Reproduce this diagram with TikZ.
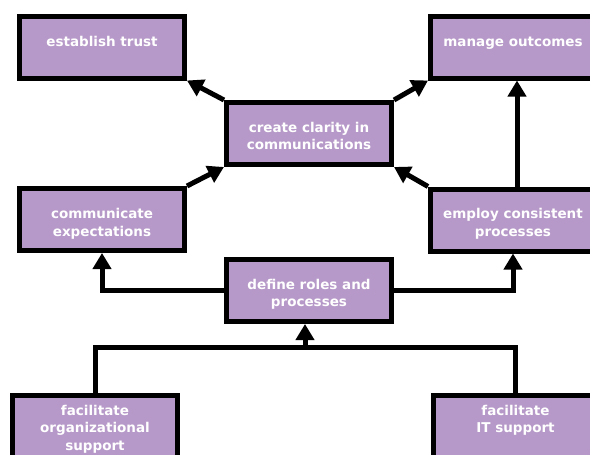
\documentclass[tikz,border=0pt]{standalone}
\usepackage{fontspec}
\setmainfont{DejaVu Sans}
\usetikzlibrary{shapes,arrows.meta}
\definecolor{boxfill}{RGB}{182,153,200}
\newcommand{\boxtext}[2][30pt]{\parbox[c][62pt][t]{165pt}{\centering\rule{0pt}{#1}#2}}
\tikzstyle{block} = [rectangle, draw, line width=5pt, fill=boxfill, text=white,
    inner sep=0pt, minimum width=165pt, minimum height=62pt,
    font=\fontsize{13.5}{17.5}\selectfont\bfseries]
\tikzstyle{line} = [draw, line width=5pt, -{Triangle[length=16pt,width=18pt]}]
\tikzstyle{wire} = [draw, line width=5pt]

\begin{document}
\begin{tikzpicture}[x=1pt, y=-1pt]
	\useasboundingbox (0,0) rectangle (590,455);

		\node [block] (trust) at (102,47) {\boxtext{establish trust}};
		\node [block] (outcomes) at (513,47) {\boxtext{manage outcomes}};
		
		\node [block] (clarity) at (309,133.5) {\boxtext[29.5pt]{create clarity in\\communications}};
		
		\node [block] (comm) at (102,219.5) {\boxtext{communicate\\expectations}};
		\node [block] (employ) at (513,220) {\boxtext[29.5pt]{employ consistent\\processes}};
		
		\node [block] (roles) at (309,290.5) {\boxtext[29.5pt]{define roles and\\processes}};
		
		\node [block] (org) at (95,426.5) {\boxtext[19.5pt]{facilitate\\organizational\\support}};
		\node [block] (it) at (515.5,426.5) {\boxtext[19.5pt]{facilitate\\IT support}};
		
		\coordinate (join) at (305,347);
		
		\path [line] (clarity.north west) -- (trust.south east);
		\path [line] (clarity.north east) -- (outcomes.south west);
		\path [line] (comm.north east) -- (clarity.south west);
		\path [line] (employ.north west) -- (clarity.south east);
		\path [line] ([xshift=4pt]employ.north) -- ([xshift=4pt]outcomes.south);
		
		\path [line] (roles.west) -| (comm.south);
		\path [line] (roles.east) -| (employ.south);
		
		\path [wire] (org.north) |- (join) -| (it.north);
		\path [line] (join) -- (join |- roles.south);
	\end{tikzpicture}
\end{document}
